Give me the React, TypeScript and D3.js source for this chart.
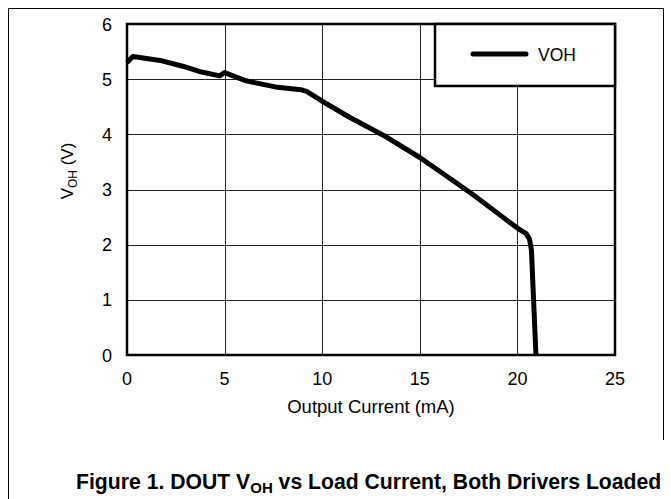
import { useEffect, useRef } from 'react';
import * as d3 from 'd3';

// VOH curve
const currentMa = [0, 0.3, 1.7, 2.9, 3.7, 4.75, 5.0, 6.1, 7.6, 8.9, 9.2, 10.0, 11.4, 13.15, 15.0, 16.55, 17.75, 19.1, 20.0, 20.45, 20.62, 20.72, 20.95];
const vohVolts = [5.3, 5.41, 5.34, 5.23, 5.14, 5.06, 5.12, 4.97, 4.86, 4.81, 4.78, 4.6, 4.31, 3.98, 3.58, 3.2, 2.9, 2.54, 2.3, 2.2, 2.1, 1.9, 0];
const xTicks = [0, 5, 10, 15, 20, 25];
const yTicks = [0, 1, 2, 3, 4, 5, 6];

const FONT = '"Liberation Sans", Arial, sans-serif';

export default function App() {
  const svgRef = useRef<SVGSVGElement>(null);

  useEffect(() => {
    if (!svgRef.current) return;
    const W = 671;
    const H = 499;
    const svg = d3.select(svgRef.current);
    svg.selectAll('*').remove();
    svg.attr('width', W).attr('height', H).attr('viewBox', `0 0 ${W} ${H}`);

    svg.append('rect').attr('width', W).attr('height', H).attr('fill', '#fff');

    // outer figure border (right side stops above the caption)
    svg
      .append('path')
      .attr('d', `M8.5,${H} V8.5 H663.5 V440`)
      .attr('fill', 'none')
      .attr('stroke', '#000')
      .attr('stroke-width', 1);

    const x = d3.scaleLinear().domain([0, 25]).range([127, 615]);
    const y = d3.scaleLinear().domain([0, 6]).range([355, 24]);

    // grid
    const grid = svg.append('g').attr('stroke', '#222').attr('stroke-width', 1);
    grid
      .selectAll('line.v')
      .data(xTicks.slice(1, -1))
      .join('line')
      .attr('class', 'v')
      .attr('x1', (d) => Math.round(x(d)) + 0.5)
      .attr('x2', (d) => Math.round(x(d)) + 0.5)
      .attr('y1', y(6))
      .attr('y2', y(0));
    grid
      .selectAll('line.h')
      .data(yTicks.slice(1, -1))
      .join('line')
      .attr('class', 'h')
      .attr('x1', x(0))
      .attr('x2', x(25))
      .attr('y1', (d) => Math.round(y(d)) + 0.5)
      .attr('y2', (d) => Math.round(y(d)) + 0.5);

    // plot frame
    svg
      .append('rect')
      .attr('x', x(0))
      .attr('y', y(6))
      .attr('width', x(25) - x(0))
      .attr('height', y(0) - y(6))
      .attr('fill', 'none')
      .attr('stroke', '#000')
      .attr('stroke-width', 2.5);

    // tick labels
    svg
      .append('g')
      .selectAll('text')
      .data(yTicks)
      .join('text')
      .attr('x', 112)
      .attr('y', (d) => y(d) + 6.5)
      .attr('text-anchor', 'end')
      .attr('font-family', FONT)
      .attr('font-size', 18)
      .attr('fill', '#000')
      .text((d) => d);
    svg
      .append('g')
      .selectAll('text')
      .data(xTicks)
      .join('text')
      .attr('x', (d) => x(d))
      .attr('y', 384.5)
      .attr('text-anchor', 'middle')
      .attr('font-family', FONT)
      .attr('font-size', 18)
      .attr('fill', '#000')
      .text((d) => d);

    // axis titles
    svg
      .append('text')
      .attr('x', (x(0) + x(25)) / 2)
      .attr('y', 413)
      .attr('text-anchor', 'middle')
      .attr('font-family', FONT)
      .attr('font-size', 18.5)
      .attr('fill', '#000')
      .text('Output Current (mA)');

    const yl = svg
      .append('text')
      .attr('transform', 'translate(73,171) rotate(-90)')
      .attr('text-anchor', 'middle')
      .attr('font-family', FONT)
      .attr('font-size', 17)
      .attr('fill', '#000');
    yl.append('tspan').text('V');
    yl.append('tspan').attr('font-size', 12).attr('dy', 4).text('OH');
    yl.append('tspan').attr('dy', -4).text(' (V)');

    // curve
    const line = d3
      .line<number>()
      .x((_, i) => x(currentMa[i]))
      .y((d) => y(d))
      .curve(d3.curveLinear);
    svg
      .append('path')
      .datum(vohVolts)
      .attr('d', line)
      .attr('fill', 'none')
      .attr('stroke', '#000')
      .attr('stroke-width', 5)
      .attr('stroke-linejoin', 'round');

    // legend
    svg
      .append('rect')
      .attr('x', 435)
      .attr('y', y(6))
      .attr('width', x(25) - 435)
      .attr('height', 62)
      .attr('fill', '#fff')
      .attr('stroke', '#000')
      .attr('stroke-width', 2.5);
    svg
      .append('line')
      .attr('x1', 473)
      .attr('x2', 526)
      .attr('y1', 54)
      .attr('y2', 54)
      .attr('stroke', '#000')
      .attr('stroke-width', 5)
      .attr('stroke-linecap', 'round');
    svg
      .append('text')
      .attr('x', 538)
      .attr('y', 60.5)
      .attr('font-family', FONT)
      .attr('font-size', 17.5)
      .attr('fill', '#000')
      .text('VOH');

    // figure caption
    const cap = svg
      .append('text')
      .attr('x', 76)
      .attr('y', 489)
      .attr('font-family', FONT)
      .attr('font-size', 21.2)
      .attr('font-weight', 'bold')
      .attr('fill', '#000');
    cap.append('tspan').text('Figure 1. DOUT V');
    cap.append('tspan').attr('font-size', 15).attr('dy', 4).text('OH');
    cap.append('tspan').attr('dy', -4).text(' vs Load Current, Both Drivers Loaded');
  }, []);

  return (
    <div style={{ position: 'absolute', left: 0, top: 0 }}>
      <svg ref={svgRef} style={{ display: 'block' }} />
    </div>
  );
}
